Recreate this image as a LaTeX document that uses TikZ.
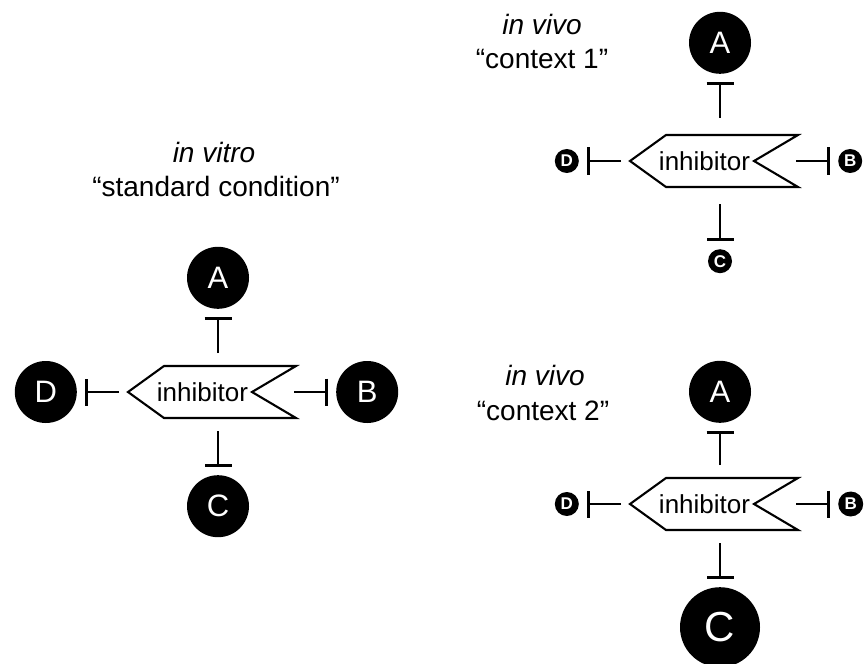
\documentclass[tikz,border=0pt]{standalone}
\usepackage{fontspec}
\setmainfont{Liberation Sans}
\usetikzlibrary{positioning}
\usetikzlibrary{arrows.meta}

\tikzset{
  condtext/.style={anchor=base, font=\fontsize{28}{34}\selectfont},
  inhtext/.style={inner sep=0pt, font=\fontsize{26}{26}\selectfont},
  inhshape/.style={draw, line width=2.1pt, fill=white},
  inhibits/.style={line width=2.5pt, -{Bar[width=27pt, line width=2.7pt]}, shorten >=8pt},
  protein/.style={circle, fill=black, text=white, inner sep=0pt},
  bigprot/.style={protein, minimum size=62pt, font=\fontsize{31}{31}\selectfont},
  smallprot/.style={protein, minimum size=24pt, font=\fontsize{17}{17}\selectfont\bfseries},
  hugeprot/.style={protein, minimum size=80pt, font=\fontsize{42}{42}\selectfont},
}

\begin{document}
\begin{tikzpicture}[x=1pt, y=-1pt]
                \useasboundingbox (0,0) rectangle (866,663);

                % in vitro panel
                \node[condtext] (vitro) at (214,162) {\itshape in vitro};
                \node[condtext] (vitrocond) at (216,196) {“standard condition”};

                \coordinate (inh1) at (128,392);
                \draw[inhshape] (inh1) -- ++(36,-26) -- ++(132,0) -- ++(-44,26)
                -- ++(44,26) -- ++(-132,0) -- cycle;
                \path (inh1) ++(74.5,0) node[inhtext] (inh1t) {inhibitor};
                \path (inh1) ++(90,-39) coordinate (inh1n) ++(0,78) coordinate (inh1s);
                \path (inh1) ++(-9,0) coordinate (inh1w) ++(175,0) coordinate (inh1e);

                \node[bigprot, above=44pt of inh1n] (A1) {A};
                \node[bigprot, right=42pt of inh1e] (B1) {B};
                \node[bigprot, below=44pt of inh1s] (C1) {C};
                \node[bigprot, left=42pt of inh1w] (D1) {D};

                \draw[inhibits] (inh1n) -- (A1);
                \draw[inhibits] (inh1e) -- (B1);
                \draw[inhibits] (inh1s) -- (C1);
                \draw[inhibits] (inh1w) -- (D1);

                % in vivo, context 1
                \node[condtext] (vivo1) at (542,35) {\itshape in vivo};
                \node[condtext] (vivo1cond) at (542,69) {“context 1”};

                \coordinate (inh2) at (630,161);
                \draw[inhshape] (inh2) -- ++(36,-26) -- ++(132,0) -- ++(-44,26)
                -- ++(44,26) -- ++(-132,0) -- cycle;
                \path (inh2) ++(74.5,0) node[inhtext] (inh2t) {inhibitor};
                \path (inh2) ++(90,-43) coordinate (inh2n) ++(0,86) coordinate (inh2s);
                \path (inh2) ++(-9,0) coordinate (inh2w) ++(175,0) coordinate (inh2e);

                \node[bigprot, above=44pt of inh2n] (A2) {A};
                \node[smallprot, right=42pt of inh2e] (B2) {B};
                \node[smallprot, below=45pt of inh2s] (C2) {C};
                \node[smallprot, left=42pt of inh2w] (D2) {D};

                \draw[inhibits] (inh2n) -- (A2);
                \draw[inhibits] (inh2e) -- (B2);
                \draw[inhibits] (inh2s) -- (C2);
                \draw[inhibits] (inh2w) -- (D2);

                % in vivo, context 2
                \node[condtext] (vivo2) at (545,385) {\itshape in vivo};
                \node[condtext] (vivo2cond) at (543,420) {“context 2”};

                \coordinate (inh3) at (630,504);
                \draw[inhshape] (inh3) -- ++(36,-26) -- ++(132,0) -- ++(-44,26)
                -- ++(44,26) -- ++(-132,0) -- cycle;
                \path (inh3) ++(74.5,0) node[inhtext] (inh3t) {inhibitor};
                \path (inh3) ++(90,-39) coordinate (inh3n) ++(0,78) coordinate (inh3s);
                \path (inh3) ++(-9,0) coordinate (inh3w) ++(175,0) coordinate (inh3e);

                \node[bigprot, above=42pt of inh3n] (A3) {A};
                \node[smallprot, minimum size=25pt, right=42pt of inh3e] (B3) {B};
                \node[hugeprot, below=44pt of inh3s] (C3) {C};
                \node[smallprot, left=42pt of inh3w] (D3) {D};

                \draw[inhibits] (inh3n) -- (A3);
                \draw[inhibits] (inh3e) -- (B3);
                \draw[inhibits] (inh3s) -- (C3);
                \draw[inhibits] (inh3w) -- (D3);

\end{tikzpicture}
\end{document}
